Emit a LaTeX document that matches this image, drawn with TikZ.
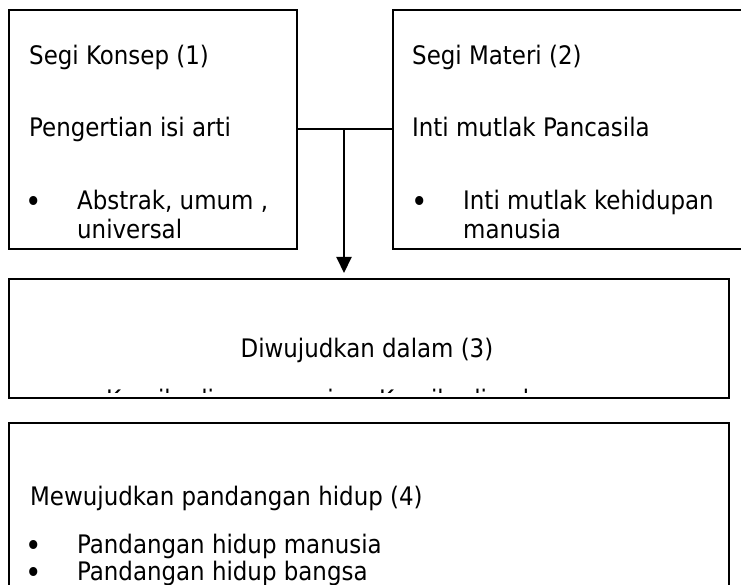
\documentclass[tikz,border=0pt]{standalone}
\usepackage{fontspec}
\setmainfont{DejaVu Sans Condensed}
\usetikzlibrary{arrows.meta}
\begin{document}
\begin{tikzpicture}[x=1pt,y=-1pt,
  boxshape/.style={draw,line width=2pt,anchor=north west,inner sep=0pt},
  txt/.style={anchor=base west,inner sep=0pt,font=\fontsize{25.5}{30}\selectfont},
  ctxt/.style={anchor=base,inner sep=0pt,font=\fontsize{25.5}{30}\selectfont},
  bul/.style={anchor=base,inner sep=0pt,font=\fontsize{31}{31}\selectfont},
  conn/.style={line width=2pt},
  arr/.style={line width=2pt,shorten >=5pt,-{Triangle[width=15pt,length=16pt]}}]
\useasboundingbox (0,0) rectangle (741,585);
% boxes
\node[boxshape,minimum width=288pt,minimum height=239pt] (b1) at (8,9) {};
\node[boxshape,minimum width=420pt,minimum height=239pt] (b2) at (392,9) {};
\node[boxshape,minimum width=720pt,minimum height=119pt] (b3) at (8,278) {};
\node[boxshape,minimum width=720pt,minimum height=200pt] (b4) at (8,422) {};
% box 1 text
\node[txt] (t1a) at (29,65) {Segi Konsep (1)};
\node[txt] (t1b) at (29,137) {Pengertian isi arti};
\node[bul] (k1) at (34,213) {•};
\node[txt] (t1c) at (77,210) {Abstrak, umum ,};
\node[txt] (t1d) at (77,239) {universal};
% box 2 text
\node[txt] (t2a) at (412,65) {Segi Materi (2)};
\node[txt] (t2b) at (412,137) {Inti mutlak Pancasila};
\node[bul] (k2) at (420,213) {•};
\node[txt] (t2c) at (463,210) {Inti mutlak kehidupan};
\node[txt] (t2d) at (463,239) {manusia};
% box 3 text
\node[ctxt] (t3a) at (367,357) {Diwujudkan dalam (3)};
\begin{scope}
\clip (10,280) rectangle (726,392);
\node[txt] (t3b) at (106,408) {Kepribadian manusia};
\node[txt] (t3c) at (379,408) {Kepribadian bangsa};
\end{scope}
% box 4 text
\node[txt] (t4a) at (30,505) {Mewujudkan pandangan hidup (4)};
\node[bul] (k3) at (34,556) {•};
\node[txt] (t4b) at (77,553) {Pandangan hidup manusia};
\node[bul] (k4) at (34,583) {•};
\node[txt] (t4c) at (77,580) {Pandangan hidup bangsa};
% connectors
\draw[conn] (b1.east) -- (b2.west);
\coordinate (j) at (344,128.5);
\draw[arr] (j) -- (j |- b3.north);
\end{tikzpicture}
\end{document}
